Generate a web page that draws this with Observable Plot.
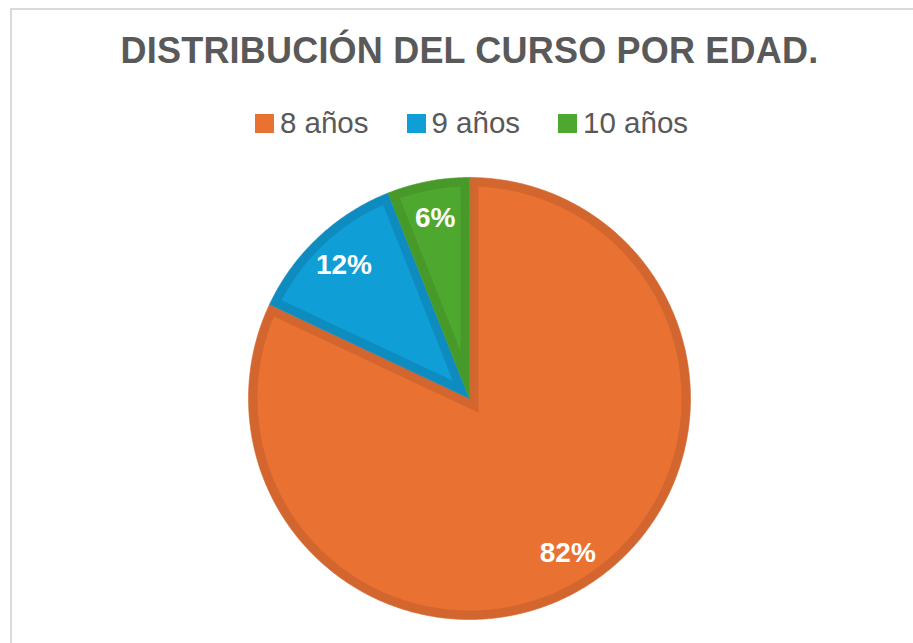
<!DOCTYPE html>
<html>
<head>
<meta charset="utf-8">
<script src="https://cdn.jsdelivr.net/npm/d3@7"></script>
<script src="https://cdn.jsdelivr.net/npm/@observablehq/plot@0.6"></script>
<style>
  html, body { margin: 0; padding: 0; background: #fff; }
  body { width: 913px; height: 643px; position: relative; overflow: hidden; font-family: "Liberation Sans", Arial, sans-serif; }
  #frame { position: absolute; left: 10px; top: 8px; width: 1000px; height: 1000px; border-left: 2px solid #d9d9d9; border-top: 2px solid #d9d9d9; }
  #header { position: relative; height: 160px; width: 913px; }
  #title { position: absolute; left: 13px; width: 913px; top: 33px; text-align: center; font-size: 36px; line-height: 36px; font-weight: bold; color: #595959; white-space: nowrap; letter-spacing: 0.2px; }
  #legend { position: absolute; left: 0; width: 913px; top: 108px; display: flex; justify-content: center; gap: 38px; padding-left: 30px; box-sizing: border-box; }
  .item { display: flex; align-items: center; font-size: 29.5px; line-height: 30px; color: #595959; }
  .sw { width: 19px; height: 19px; margin-right: 6px; }
  #chart { position: relative; }
</style>
</head>
<body>
<div id="frame"></div>
<div id="header">
  <div id="title">DISTRIBUCIÓN DEL CURSO POR EDAD.</div>
  <div id="legend"></div>
</div>
<div id="chart"></div>
<script>
const categories = ["8 años", "9 años", "10 años"];
const values = [82, 12, 6];
const labels = ["82%", "12%", "6%"];
const fills = ["#E97132", "#0F9ED5", "#4EA72E"];
const borders = ["#D3662F", "#0E8CC0", "#479A2A"];

// legend
const legend = document.getElementById("legend");
categories.forEach((c, i) => {
  const it = document.createElement("div");
  it.className = "item";
  const sw = document.createElement("span");
  sw.className = "sw";
  sw.style.background = fills[i];
  it.appendChild(sw);
  it.appendChild(document.createTextNode(c));
  legend.appendChild(it);
});

const W = 913, H = 483, CX = 469, CY = 238, R = 221;
const inset = 9 / R; // border band width in data units
const labelR = 0.83;

const arcs = d3.pie().sort(null).value(d => d)(values);

const outer = [], inner = [], labelPts = [];
arcs.forEach((a, i) => {
  const a0 = a.startAngle, a1 = a.endAngle;
  const steps = Math.max(4, Math.ceil((a1 - a0) / (Math.PI / 360)));
  outer.push({slice: i, x: 0, y: 0, c: borders[i]});
  for (let k = 0; k <= steps; k++) {
    const t = a0 + (a1 - a0) * k / steps;
    outer.push({slice: i, x: Math.sin(t), y: Math.cos(t), c: borders[i]});
  }
  const theta = a1 - a0, mid = (a0 + a1) / 2;
  const ri = 1 - inset;
  const d = Math.asin(inset / ri);
  const apex = inset / Math.sin(theta / 2);
  inner.push({slice: i, x: apex * Math.sin(mid), y: apex * Math.cos(mid), c: fills[i]});
  const b0 = a0 + d, b1 = a1 - d;
  for (let k = 0; k <= steps; k++) {
    const t = b0 + (b1 - b0) * k / steps;
    inner.push({slice: i, x: ri * Math.sin(t), y: ri * Math.cos(t), c: fills[i]});
  }
  labelPts.push({x: labelR * Math.sin(mid), y: labelR * Math.cos(mid), text: labels[i]});
});

const chart = Plot.plot({
  width: W,
  height: H,
  margin: 0,
  x: {domain: [-1, 1], range: [CX - R, CX + R], axis: null},
  y: {domain: [-1, 1], range: [CY + R, CY - R], axis: null},
  color: {type: "identity"},
  marks: [
    Plot.line(outer, {x: "x", y: "y", z: "slice", fill: "c", stroke: "c", strokeWidth: 0.6, curve: "linear-closed"}),
    Plot.line(inner, {x: "x", y: "y", z: "slice", fill: "c", stroke: "none", curve: "linear-closed"}),
    Plot.text(labelPts, {x: "x", y: "y", text: "text", fill: "white", fontSize: 28, fontWeight: "bold", fontFamily: "Liberation Sans, Arial, sans-serif"})
  ]
});
document.getElementById("chart").appendChild(chart);
</script>
</body>
</html>
